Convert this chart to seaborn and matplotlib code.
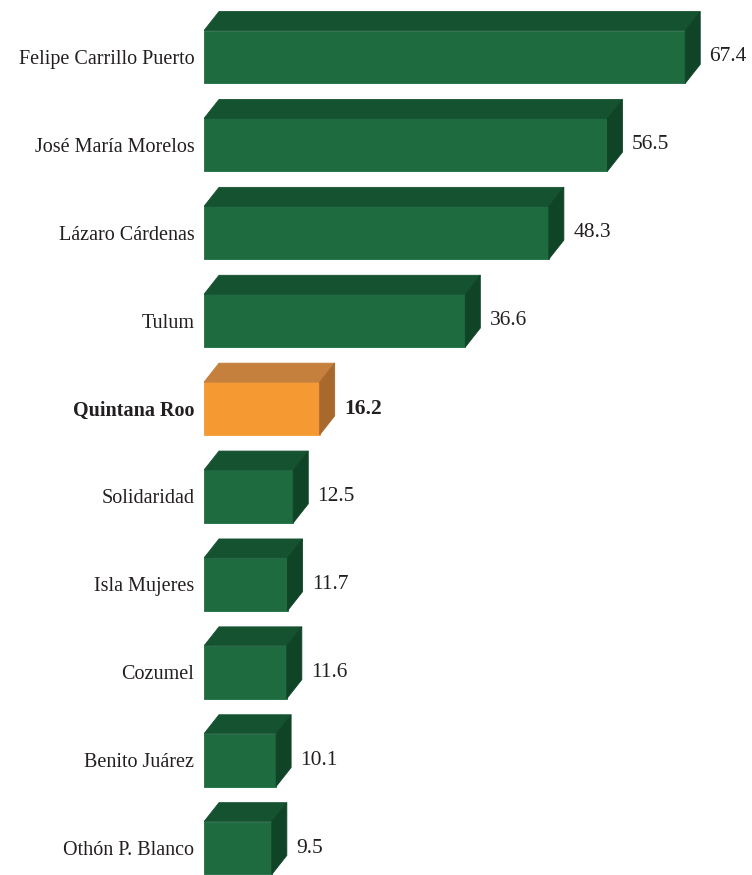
import pandas as pd
import seaborn as sns
import matplotlib.pyplot as plt
from matplotlib.patches import Polygon

# Datos
municipios = ['Felipe Carrillo Puerto', 'José María Morelos', 'Lázaro Cárdenas', 'Tulum',
              'Quintana Roo', 'Solidaridad', 'Isla Mujeres', 'Cozumel', 'Benito Juárez',
              'Othón P. Blanco']
valores = [67.4, 56.5, 48.3, 36.6, 16.2, 12.5, 11.7, 11.6, 10.1, 9.5]
destacado = 'Quintana Roo'

verde = ('#1e6b40', '#155230', '#0f4426')
naranja = ('#f59a32', '#c4803c', '#a86a2c')

df = pd.DataFrame({'municipio': municipios, 'valor': valores})
colores = {m: (naranja[0] if m == destacado else verde[0]) for m in municipios}

sns.set_style('white')
plt.rcParams['font.family'] = ['Liberation Serif', 'DejaVu Serif']

W, H = 752, 875
fig = plt.figure(figsize=(W / 100, H / 100), dpi=100)
ax = fig.add_axes([204 / W, 0, 1 - 204 / W, 1])

sns.barplot(data=df, x='valor', y='municipio', hue='municipio', palette=colores,
            orient='h', width=0.6, legend=False, ax=ax, saturation=1, linewidth=0)

px_x = 7.14  # pixeles por unidad
xmax = (W - 204) / px_x
ax.set_xlim(0, xmax)
ax.set_ylim(9 + (H - 848) / 88, -57 / 88)

dx = 15 * xmax / (W - 204)
dy = 19 * (ax.get_ylim()[0] - ax.get_ylim()[1]) / H

for patch, m, v in zip(ax.patches, municipios, valores):
    c = naranja if m == destacado else verde
    patch.set_edgecolor(c[0])
    patch.set_linewidth(0.6)
    x0, x1 = 0, v
    yt = patch.get_y()
    yb = yt + patch.get_height()
    ax.add_patch(Polygon([(x0, yt), (x1, yt), (x1 + dx, yt - dy), (x0 + dx, yt - dy)],
                         closed=True, facecolor=c[1], edgecolor=c[1], linewidth=0.6))
    ax.add_patch(Polygon([(x1, yt), (x1 + dx, yt - dy), (x1 + dx, yb - dy), (x1, yb)],
                         closed=True, facecolor=c[2], edgecolor=c[2], linewidth=0.6))
    ax.text(x1 + dx + 1.3, (yt + yb) / 2, f'{v:.1f}', va='center', ha='left',
            fontsize=15.5, color='#231f20',
            fontweight='bold' if m == destacado else 'normal')

ax.set_xlabel('')
ax.set_ylabel('')
ax.set_xticks([])
ax.tick_params(axis='y', length=0, pad=7, labelsize=14.5, labelcolor='#231f20')
for lbl in ax.get_yticklabels():
    if lbl.get_text() == destacado:
        lbl.set_fontweight('bold')
sns.despine(ax=ax, left=True, bottom=True)

fig.savefig('out.png', dpi=100)
